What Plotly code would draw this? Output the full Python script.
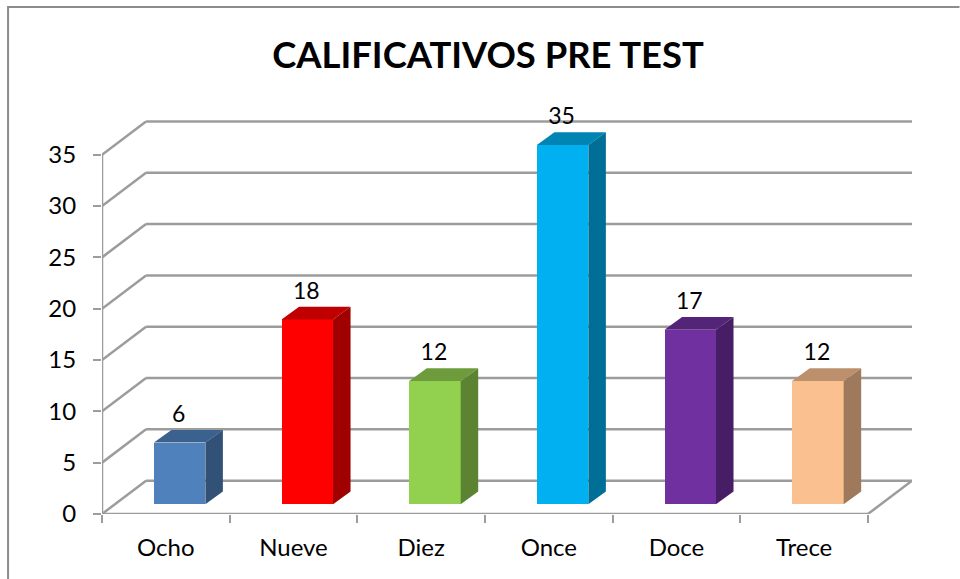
import plotly.graph_objects as go

categories = ["Ocho", "Nueve", "Diez", "Once", "Doce", "Trece"]
values = [6, 18, 12, 35, 17, 12]
y_ticks = [0, 5, 10, 15, 20, 25, 30, 35]
title = "CALIFICATIVOS PRE TEST"
front_colors = ["#4F81BD", "#FF0000", "#92D050", "#00B0F0", "#7030A0", "#FAC090"]
top_colors = ["#3B618E", "#C00000", "#6E9C3C", "#0084B4", "#542478", "#BC906C"]
side_colors = ["#325177", "#A00000", "#5C8332", "#006F97", "#471E65", "#9E795B"]

FONT = "Lato"
GRID = "#9C9C9C"

# pixel scale of the axes
W, H = 960, 579
L, R, T, B = 102, 47.5, 100, 65.3
PX_X = 127.5    # pixels per category
PX_Y = 10.257   # pixels per value unit
to_x = lambda px: px / PX_X
to_y = lambda px: px / PX_Y

# oblique projection offsets
WALL_X, WALL_Y = to_x(44), to_y(33.3)
BAR_X, BAR_Y = to_x(13.8), to_y(9.8)
DEPTH_X, DEPTH_Y = to_x(17.5), to_y(12.7)
BAR_W = 0.403
centers = [i + 0.5 for i in range(len(categories))]
xmax = len(categories)

shapes = []
def line(x0, y0, x1, y1, color=GRID, width=2.5):
    shapes.append(dict(type="line", xref="x", yref="y", x0=x0, y0=y0, x1=x1, y1=y1,
                       line=dict(color=color, width=width), layer="below"))

for t in y_ticks:
    line(0, t, WALL_X, t + WALL_Y)
    line(WALL_X, t + WALL_Y, xmax + WALL_X, t + WALL_Y)
line(0, 0, xmax, 0)
line(xmax, 0, xmax + WALL_X, WALL_Y)
line(0, 0, 0, y_ticks[-1])

# chart frame (left and top edges)
pw, ph = W - L - R, H - T - B
fx = (8 - L) / pw
fy = (H - 7 - B) / ph
shapes.append(dict(type="path", xref="paper", yref="paper",
                   path=f"M {fx} {(0 - B) / ph} L {fx} {fy} L {(W - L) / pw} {fy}",
                   line=dict(color="#8C8C8C", width=2), layer="below"))

fig = go.Figure()
fig.add_trace(go.Bar(
    x=[c + BAR_X for c in centers], y=values, base=[BAR_Y] * len(values),
    width=BAR_W, marker=dict(color=front_colors, line=dict(width=0)),
    hoverinfo="skip"))

for c, v, tc, sc in zip(centers, values, top_colors, side_colors):
    xl, xr = c + BAR_X - BAR_W / 2, c + BAR_X + BAR_W / 2
    yb, yt = BAR_Y, BAR_Y + v
    fig.add_trace(go.Scatter(
        x=[xl, xr, xr + DEPTH_X, xl + DEPTH_X, xl],
        y=[yt, yt, yt + DEPTH_Y, yt + DEPTH_Y, yt],
        mode="lines", fill="toself", fillcolor=tc, line=dict(width=0), hoverinfo="skip"))
    fig.add_trace(go.Scatter(
        x=[xr, xr + DEPTH_X, xr + DEPTH_X, xr, xr],
        y=[yb, yb + DEPTH_Y, yt + DEPTH_Y, yt, yb],
        mode="lines", fill="toself", fillcolor=sc, line=dict(width=0), hoverinfo="skip"))

fig.add_trace(go.Scatter(
    x=[c + BAR_X - to_x(1) for c in centers],
    y=[BAR_Y + v + to_y(26.5) for v in values],
    text=[str(v) for v in values], mode="text", textposition="middle center",
    textfont=dict(family=FONT, size=23, color="#000000"), cliponaxis=False, hoverinfo="skip"))

fig.update_layout(
    width=W, height=H, autosize=False,
    margin=dict(l=L, r=R, t=T, b=B, autoexpand=False),
    paper_bgcolor="white", plot_bgcolor="rgba(0,0,0,0)",
    showlegend=False, bargap=0, shapes=shapes,
    title=dict(text=f"<b>{title}</b>", x=488 / W, xanchor="center",
               y=1 - 55 / H, yanchor="middle",
               font=dict(family=FONT, size=36.4, color="#000000")),
    xaxis=dict(type="linear", range=[0, xmax + WALL_X], tickmode="array",
               tickvals=centers, ticktext=categories, showgrid=False, zeroline=False,
               showline=False, ticks="outside", ticklen=12, tickcolor="rgba(0,0,0,0)",
               tickfont=dict(family=FONT, size=24, color="#000000"),
               minor=dict(tickmode="array", tickvals=list(range(xmax + 1)), ticks="outside",
                          ticklen=8, tickwidth=2, tickcolor=GRID, showgrid=False)),
    yaxis=dict(type="linear", range=[0, (H - B - T) / PX_Y], tickmode="array",
               tickvals=y_ticks, showgrid=False, zeroline=False, showline=False,
               ticks="outside", ticklen=8, tickwidth=2, tickcolor=GRID,
               ticklabelstandoff=12,
               tickfont=dict(family=FONT, size=24, color="#000000")),
)
fig.write_html("out.html", config={"displayModeBar": False},
               post_script="document.body.style.margin='0';")
